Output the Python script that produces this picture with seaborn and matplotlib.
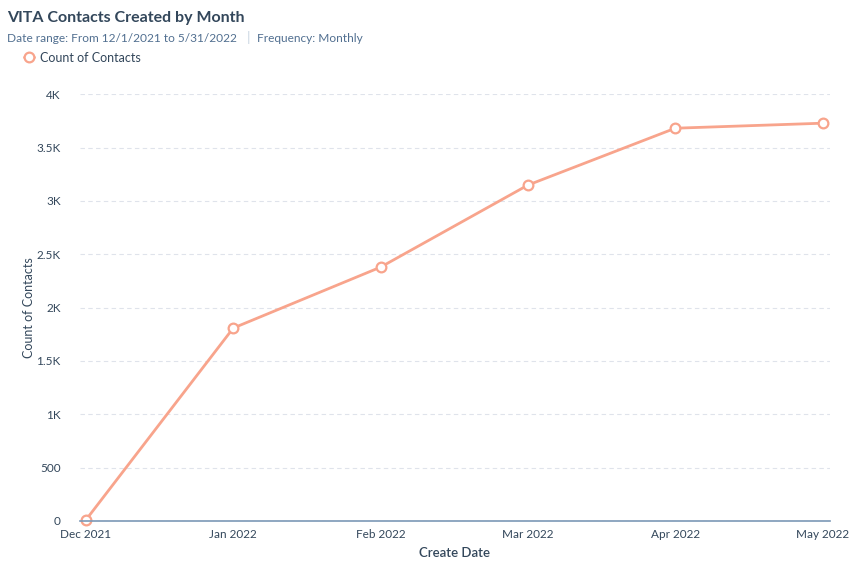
import pandas as pd
import seaborn as sb
import matplotlib.pyplot as plt
from matplotlib.ticker import FuncFormatter

meses = ["Dec 2021", "Jan 2022", "Feb 2022", "Mar 2022", "Apr 2022", "May 2022"]
contactos = [10, 1808, 2379, 3148, 3681, 3728]

datos = pd.DataFrame({"mes": meses, "contactos": contactos})

color_linea = "#f8a48c"
color_texto = "#516f90"
color_titulo = "#33475b"

sb.set_style("white")
plt.rcParams["font.family"] = ["Lato", "DejaVu Sans"]

fig = plt.figure(figsize=(8.65, 5.76), dpi=100)
ax = fig.add_axes([0.0925, 0.0955, 0.867, 0.741])

sb.lineplot(x="mes", y="contactos", data=datos, ax=ax, color=color_linea, linewidth=2,
            marker="o", markersize=7, markerfacecolor="white", markeredgecolor=color_linea,
            markeredgewidth=1.6, label="Count of Contacts", legend=False)
for l in ax.lines:
    l.set_clip_on(False)

ax.set_ylim(0, 4000)
ax.set_xlim(-0.04, 5.05)
ax.set_yticks([0, 500, 1000, 1500, 2000, 2500, 3000, 3500, 4000])


def formato_k(v, pos):
    if v >= 1000:
        return f"{v / 1000:g}K"
    return f"{v:g}"


ax.yaxis.set_major_formatter(FuncFormatter(formato_k))
ax.grid(axis="y", color="#dfe3eb", linestyle=(0, (4, 3)), linewidth=0.8)
ax.set_axisbelow(True)
for lado in ["top", "right", "left"]:
    ax.spines[lado].set_visible(False)
ax.spines["bottom"].set_color("#7c98b6")
ax.spines["bottom"].set_linewidth(1.2)
ax.tick_params(axis="x", colors="#7c98b6", direction="in", length=5, width=1,
               labelcolor=color_titulo, labelsize=8.5, pad=6)
ax.tick_params(axis="y", length=0, labelcolor=color_titulo, labelsize=8.5, pad=14)
ax.set_xlabel("Create Date", color=color_titulo, fontsize=9.5, fontweight="semibold", labelpad=5)
ax.set_ylabel("Count of Contacts", color=color_titulo, fontsize=9)
ax.yaxis.set_label_coords(-0.06, 0.5)

fig.text(0.008, 0.962, "VITA Contacts Created by Month", color=color_titulo,
         fontsize=11.5, fontweight="bold")
fig.text(0.008, 0.927, "Date range: From 12/1/2021 to 5/31/2022", color=color_texto, fontsize=8.6)
fig.text(0.2855, 0.927, "|", color="#cbd6e2", fontsize=10)
fig.text(0.297, 0.927, "Frequency: Monthly", color=color_texto, fontsize=8.6)
fig.legend(handles=ax.lines[:1], labels=["Count of Contacts"], loc="upper left",
           bbox_to_anchor=(0.015, 0.93), frameon=False, fontsize=9, handlelength=0.8,
           handletextpad=0.5, labelcolor=color_titulo)

plt.savefig("out.png", dpi=100)
